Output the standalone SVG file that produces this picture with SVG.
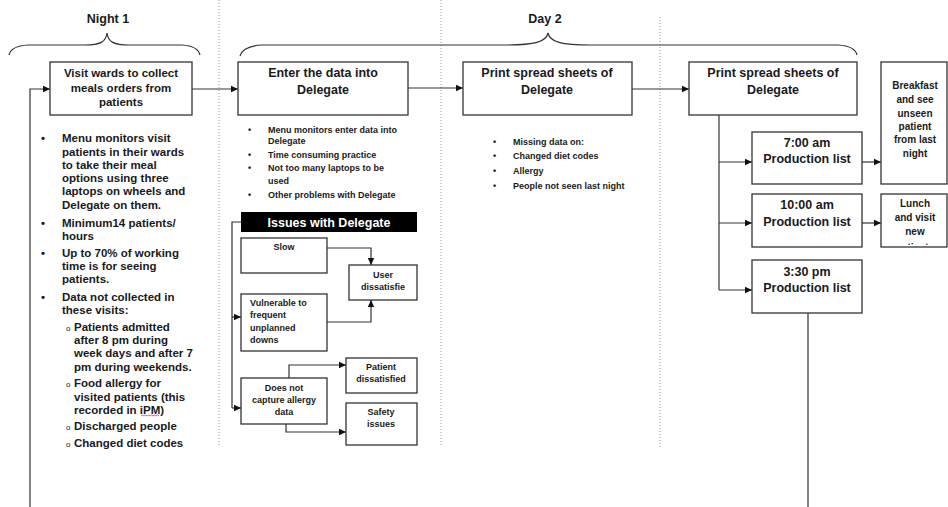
<svg xmlns="http://www.w3.org/2000/svg" width="948" height="507" viewBox="0 0 948 507">
<defs>
<marker id="ah" markerWidth="8" markerHeight="8" refX="7" refY="4" orient="auto" markerUnits="userSpaceOnUse">
<path d="M0,0.8 L7,4 L0,7.2 Z" fill="#111"/>
</marker>
<clipPath id="lunchClip"><rect x="881" y="194" width="66" height="51"/></clipPath>
<style>
text{font-family:"Liberation Sans",Arial,sans-serif;font-weight:bold;fill:#1a1a1a}
.box{fill:#fff;stroke:#333;stroke-width:1.3}
.con{fill:none;stroke:#333;stroke-width:1.2}
.arr{fill:none;stroke:#333;stroke-width:1.2;marker-end:url(#ah)}
.dot{stroke:#999;stroke-width:1;stroke-dasharray:1,2}
.brace{fill:none;stroke:#333;stroke-width:1.2}
.t125{font-size:12.5px;text-anchor:middle}
.t115{font-size:11.5px}
.t9{font-size:9px}
.t10{font-size:10px;text-anchor:middle}
.c{text-anchor:middle}
.sb{font-size:8px;font-weight:normal}
</style>
</defs>
<rect width="948" height="507" fill="#fff"/>

<g id="separators">
<line class="dot" x1="219" y1="0" x2="219" y2="447"/>
<line class="dot" x1="441" y1="0" x2="441" y2="447"/>
<line class="dot" x1="660" y1="17" x2="660" y2="447"/>
</g>

<g id="night1-label">
<text x="108" y="23" class="t125" font-size="13">Night 1</text>
<path class="brace" d="M9,55 Q11,46 28,45 L85,45 C100,45 106,42 107,33 C108,42 114,45 129,45 L182,45 Q198,46 200,55"/>
</g>
<g id="day2-label">
<text x="545" y="23" class="t125" font-size="13">Day 2</text>
<path class="brace" d="M240,56 Q243,46 262,45 L505,45 C535,45 546,42 548,33 C550,42 561,45 591,45 L838,45 Q855,46 857,55"/>
</g>

<g id="connectors">
<path class="arr" d="M30,507 L30,89 L50,89"/>
<path class="arr" d="M192,89 L238,89"/>
<path class="arr" d="M408,88 L463,88"/>
<path class="arr" d="M632,89 L689,89"/>
<path class="con" d="M719,115 L719,290"/>
<path class="arr" d="M719,162 L752,162"/>
<path class="arr" d="M719,223 L752,223"/>
<path class="arr" d="M719,290 L752,290"/>
<path class="arr" d="M862,162 L881,162"/>
<path class="arr" d="M862,223 L881,223"/>
<path class="con" d="M808,313 L808,507"/>
<path class="con" d="M241,222 L232,222 L232,408"/>
<path class="arr" d="M232,317 L241,317"/>
<path class="arr" d="M232,408 L241,408"/>
<path class="arr" d="M327,248 L371,248 L371,265"/>
<path class="arr" d="M327,322 L371,322 L371,300"/>
<path class="arr" d="M289,378 L289,365 L346,365"/>
<path class="arr" d="M286,424 L286,432 L346,432"/>
</g>

<g id="visit-wards">
<rect class="box" x="50" y="62" width="142" height="53"/>
<text class="t115 c" x="121" y="77">Visit wards to collect</text>
<text class="t115 c" x="121" y="92">meals orders from</text>
<text class="t115 c" x="121" y="106">patients</text>
</g>

<g id="night1-notes">
<g class="t115">
<text x="41" y="142">•</text>
<text x="62" y="142">Menu monitors visit</text>
<text x="62" y="156">patients in their wards</text>
<text x="62" y="169">to take their meal</text>
<text x="62" y="182">options using three</text>
<text x="62" y="195">laptops on wheels and</text>
<text x="62" y="209">Delegate on them.</text>
<text x="41" y="227">•</text>
<text x="62" y="227">Minimum14 patients/</text>
<text x="62" y="240">hours</text>
<text x="41" y="257">•</text>
<text x="62" y="257">Up to 70% of working</text>
<text x="62" y="270">time is for seeing</text>
<text x="62" y="283">patients.</text>
<text x="41" y="301">•</text>
<text x="62" y="301">Data not collected in</text>
<text x="62" y="314">these visits:</text>
<text x="66" y="331" class="sb">o</text>
<text x="74" y="331">Patients admitted</text>
<text x="74" y="344">after 8 pm during</text>
<text x="74" y="357">week days and after 7</text>
<text x="74" y="371">pm during weekends.</text>
<text x="66" y="387" class="sb">o</text>
<text x="74" y="387">Food allergy for</text>
<text x="74" y="401">visited patients (this</text>
<text x="74" y="414">recorded in iPM)</text>
<text x="66" y="430" class="sb">o</text>
<text x="74" y="430">Discharged people</text>
<text x="66" y="447" class="sb">o</text>
<text x="74" y="447">Changed diet codes</text>
</g>
<path d="M141,416 l1.5,-1 l1.5,1 l1.5,-1 l1.5,1 l1.5,-1 l1.5,1 l1.5,-1 l1.5,1 l1.5,-1 l1.5,1 l1.5,-1 l1.5,1" fill="none" stroke="#d33" stroke-width="0.8"/>
</g>

<g id="enter-data">
<rect class="box" x="238" y="62" width="170" height="53"/>
<text class="t125" x="323" y="77">Enter the data into</text>
<text class="t125" x="323" y="94">Delegate</text>
</g>

<g id="enter-notes" class="t9">
<text x="248" y="133">•</text>
<text x="268" y="133">Menu monitors enter data into</text>
<text x="268" y="144">Delegate</text>
<text x="248" y="158">•</text>
<text x="268" y="158">Time consuming practice</text>
<text x="248" y="171">•</text>
<text x="268" y="171">Not too many laptops to be</text>
<text x="268" y="184">used</text>
<text x="248" y="198">•</text>
<text x="268" y="198">Other problems with Delegate</text>
</g>

<g id="issues-header">
<rect x="241" y="212" width="176" height="20" fill="#000"/>
<text x="329" y="226.5" class="c" font-size="12.5" style="fill:#fff">Issues with Delegate</text>
</g>

<g id="slow">
<rect class="box" x="241" y="238" width="86" height="35"/>
<text class="t9 c" x="284" y="250">Slow</text>
</g>
<g id="user-dissatisfied">
<rect class="box" x="349" y="265" width="68" height="35"/>
<text class="t9 c" x="383" y="278">User</text>
<text class="t9 c" x="383" y="290">dissatisfie</text>
</g>
<g id="vulnerable">
<rect class="box" x="241" y="294" width="86" height="57"/>
<text class="t9" x="250" y="306">Vulnerable to</text>
<text class="t9" x="250" y="318">frequent</text>
<text class="t9" x="250" y="331">unplanned</text>
<text class="t9" x="250" y="343">downs</text>
</g>
<g id="patient-dissatisfied">
<rect class="box" x="346" y="358" width="71" height="35"/>
<text class="t9 c" x="381" y="370">Patient</text>
<text class="t9 c" x="381" y="382">dissatisfied</text>
</g>
<g id="allergy">
<rect class="box" x="241" y="378" width="86" height="46"/>
<text class="t9 c" x="284" y="391">Does not</text>
<text class="t9 c" x="284" y="403">capture allergy</text>
<text class="t9 c" x="284" y="415">data</text>
</g>
<g id="safety">
<rect class="box" x="346" y="403" width="71" height="42"/>
<text class="t9 c" x="381" y="415">Safety</text>
<text class="t9 c" x="381" y="427">issues</text>
</g>

<g id="print-1">
<rect class="box" x="463" y="62" width="169" height="53"/>
<text class="t125" x="547" y="77">Print spread sheets of</text>
<text class="t125" x="547" y="94">Delegate</text>
</g>
<g id="print-notes" class="t9">
<text x="493" y="145">•</text>
<text x="513" y="145">Missing data on:</text>
<text x="493" y="159">•</text>
<text x="513" y="159">Changed diet codes</text>
<text x="493" y="174">•</text>
<text x="513" y="174">Allergy</text>
<text x="493" y="189">•</text>
<text x="513" y="189">People not seen last night</text>
</g>

<g id="print-2">
<rect class="box" x="689" y="62" width="168" height="53"/>
<text class="t125" x="773" y="77">Print spread sheets of</text>
<text class="t125" x="773" y="94">Delegate</text>
</g>

<g id="prod-700">
<rect class="box" x="752" y="132" width="110" height="52"/>
<text class="t125" x="807" y="147">7:00 am</text>
<text class="t125" x="807" y="163">Production list</text>
</g>
<g id="prod-1000">
<rect class="box" x="752" y="194" width="110" height="53"/>
<text class="t125" x="807" y="209">10:00 am</text>
<text class="t125" x="807" y="226">Production list</text>
</g>
<g id="prod-330">
<rect class="box" x="752" y="260" width="110" height="53"/>
<text class="t125" x="807" y="276">3:30 pm</text>
<text class="t125" x="807" y="292">Production list</text>
</g>

<g id="breakfast">
<rect class="box" x="881" y="62" width="66" height="122"/>
<text class="t10" x="915" y="88.5">Breakfast</text>
<text class="t10" x="915" y="102.5">and see</text>
<text class="t10" x="915" y="116.5">unseen</text>
<text class="t10" x="915" y="129.5">patient</text>
<text class="t10" x="915" y="142.5">from last</text>
<text class="t10" x="915" y="156.5">night</text>
</g>
<g id="lunch">
<rect class="box" x="881" y="194" width="66" height="53"/>
<g clip-path="url(#lunchClip)">
<text class="t10" x="915" y="206.5">Lunch</text>
<text class="t10" x="915" y="220.5">and visit</text>
<text class="t10" x="915" y="234.5">new</text>
<text class="t10" x="915" y="251">patients</text>
</g>
</g>
</svg>
